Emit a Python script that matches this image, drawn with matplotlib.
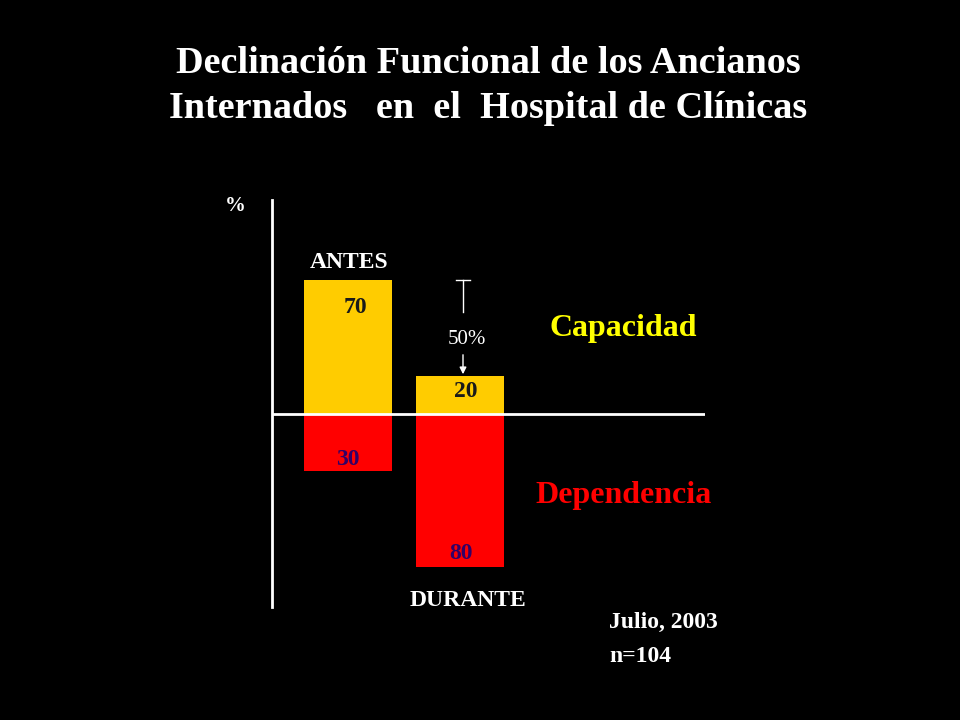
import matplotlib
matplotlib.use("Agg")
import matplotlib.pyplot as plt

# datos
periodos = ["ANTES", "DURANTE"]
capacidad = [70, 20]
dependencia = [30, 80]
titulo = "Declinación Funcional de los Ancianos\nInternados   en  el  Hospital de Clínicas"

AMARILLO = "#FFCC00"
ROJO = "#FF0000"

plt.rcParams["font.family"] = ["Liberation Serif", "DejaVu Serif"]

fig = plt.figure(figsize=(9.6, 7.2), dpi=100, facecolor="black")


def px(x, y):
    # pixeles de la imagen -> fraccion de la figura
    return x / 960, 1 - y / 720


# ejes: x de 272 a 705 px, y de 200 a 607 px, cero en 414 px
ax = fig.add_axes([272 / 960, 1 - 607 / 720, 433 / 960, 407 / 720])
ax.set_facecolor("black")
ax.set_xlim(0, 433)
ax.set_ylim(-101, 112)

pos = [76, 188]
ax.bar(pos, capacidad, width=88, color=AMARILLO, zorder=2)
ax.bar(pos, [-d for d in dependencia], width=88, color=ROJO, zorder=2)
ax.axhline(0, color="white", lw=2, zorder=3)

for s in ["top", "right", "bottom"]:
    ax.spines[s].set_visible(False)
ax.spines["left"].set_color("white")
ax.spines["left"].set_linewidth(2)
ax.set_xticks([])
ax.set_yticks([])

# textos de valores
ax.text(pos[0] + 7, capacidad[0] - 14, str(capacidad[0]), ha="center", va="center",
        fontsize=17, fontweight="bold", color="#1a1a1a", zorder=4)
ax.text(pos[1] + 6, capacidad[1] - 8, str(capacidad[1]), ha="center", va="center",
        fontsize=17, fontweight="bold", color="#1a1a1a", zorder=4)
ax.text(pos[0], -dependencia[0] + 6, str(dependencia[0]), ha="center", va="center",
        fontsize=17, fontweight="bold", color="#330066", zorder=4)
ax.text(pos[1] + 1, -dependencia[1] + 7, str(dependencia[1]), ha="center", va="center",
        fontsize=17, fontweight="bold", color="#330066", zorder=4)

# titulo
fig.text(*px(488, 86), titulo, ha="center", va="center", color="white",
         fontsize=27.5, fontweight="bold", linespacing=1.36)

fig.text(*px(235, 206), "%", ha="center", va="center", color="white",
         fontsize=15, fontweight="bold")
fig.text(*px(349, 262), periodos[0], ha="center", va="center", color="white",
         fontsize=17, fontweight="bold")
fig.text(*px(468, 600), periodos[1], ha="center", va="center", color="white",
         fontsize=17, fontweight="bold")

fig.text(*px(623, 329), "Capacidad", ha="center", va="center", color="#FFFF00",
         fontsize=23, fontweight="bold")
fig.text(*px(624, 496), "Dependencia", ha="center", va="center", color=ROJO,
         fontsize=23, fontweight="bold")

# flecha del 50%
fig.add_artist(plt.Line2D([px(456, 0)[0], px(470, 0)[0]], [px(0, 280)[1]] * 2,
                          color="white", lw=1))
fig.add_artist(plt.Line2D([px(463, 0)[0]] * 2, [px(0, 280)[1], px(0, 312)[1]],
                          color="white", lw=1))
fig.text(*px(467, 340), "50%", ha="center", va="center", color="white", fontsize=15)
fig.add_artist(matplotlib.patches.FancyArrowPatch(px(463, 352), px(463, 377),
                                                  transform=fig.transFigure,
                                                  arrowstyle="-|>", mutation_scale=10,
                                                  color="white", lw=1))

fig.text(*px(609, 622), "Julio, 2003", ha="left", va="center", color="white",
         fontsize=17, fontweight="bold")
fig.text(*px(609, 657), "n=104", ha="left", va="center", color="white",
         fontsize=17, fontweight="bold")

fig.savefig("out.png", dpi=100, facecolor="black")
